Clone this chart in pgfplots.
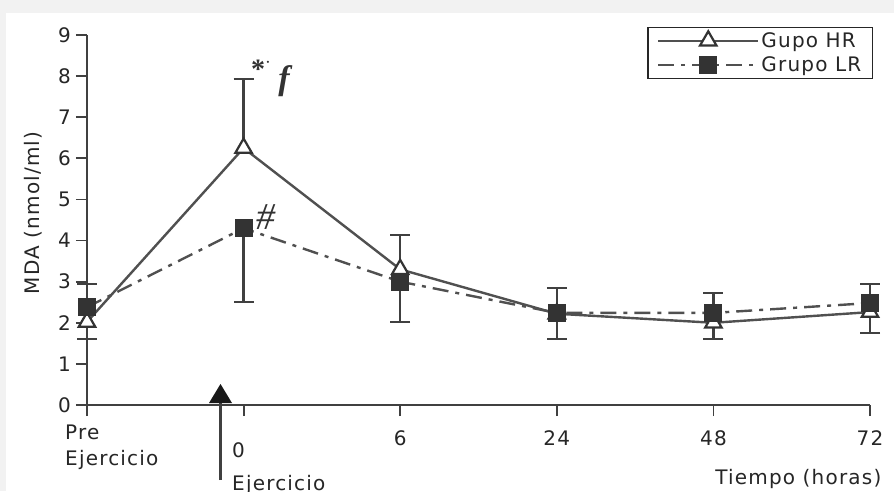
\documentclass[border=0pt]{standalone}
\usepackage{pgfplots}
\pgfplotsset{compat=1.18}
\usepackage{fontspec}
\setmainfont{DejaVu Sans}[LetterSpace=6]
\newfontfamily\seriff{Liberation Serif}
\definecolor{bg}{HTML}{F2F2F2}
\definecolor{ln}{HTML}{505050}
\definecolor{mk}{HTML}{333333}
\definecolor{ax}{HTML}{404040}
\begin{document}
\begin{tikzpicture}[x=1pt,y=1pt]
\fill[bg] (0,0) rectangle (894,491);
\fill[white] (6,0) rectangle (894,478);
\begin{axis}[
  at={(87pt,86pt)}, anchor=south west,
  scale only axis, width=783pt, height=370pt,
  xmin=0, xmax=5, ymin=0, ymax=9,
  clip=false,
  axis lines=left,
  axis line style={-, line width=1.8pt, color=ax},
  xtick={0,...,5}, xticklabels={,,6,24,48,72},
  ytick={0,...,9},
  tick align=outside, major tick length=11pt,
  tick style={line width=1.8pt, color=ax},
  tick label style={font=\fontsize{20}{24}\selectfont, text=black!85},
  /pgf/number format/assume math mode=true,
  yticklabel style={anchor=east, inner sep=0pt, xshift=-5pt},
  xticklabel style={anchor=north, inner sep=0pt, yshift=-14pt},
  ylabel={MDA (nmol/ml)},
  every axis y label/.style={at={(axis description cs:-0.069,0.519)}, rotate=90, anchor=center, font=\fontsize{20}{24}\selectfont, text=black!85},
  xlabel={Tiempo (horas)},
  every axis x label/.style={at={(axis description cs:1.019,-0.216)}, anchor=base east, font=\fontsize{20}{24}\selectfont, text=black!85},
  legend style={at={(axis description cs:1.0038,1.0216)}, anchor=north east,
    draw=black!85, line width=1.2pt, inner xsep=9pt, inner ysep=3pt,
    row sep=4pt, font=\fontsize{20}{24}\selectfont, text=black!85,
    nodes={inner sep=2pt}},
  legend cell align=left,
  legend image code/.code={
    \draw[mark repeat=2,mark phase=2,#1] plot coordinates {(0pt,0pt) (50pt,0pt) (100pt,0pt)};
  },
]
% error bars, plus direction
\addplot[forget plot, only marks, mark=none,
  error bars/.cd, y dir=plus, y explicit,
  error bar style={line width=2.3pt, color=ax, solid},
  error mark options={rotate=90, mark size=10pt, line width=2.3pt, color=ax, solid}]
  coordinates {(1,6.25) +- (0,1.68) (2,3.3) +- (0,0.83)
               (0,2.38) +- (0,0.56) (3,2.24) +- (0,0.61) (4,2.24) +- (0,0.48) (5,2.48) +- (0,0.46)};
% error bars, minus direction
\addplot[forget plot, only marks, mark=none,
  error bars/.cd, y dir=minus, y explicit,
  error bar style={line width=2.3pt, color=ax, solid},
  error mark options={rotate=90, mark size=10pt, line width=2.3pt, color=ax, solid}]
  coordinates {(0,2.02) +- (0,0.42) (3,2.22) +- (0,0.62) (4,2.0) +- (0,0.4) (5,2.26) +- (0,0.51)
               (1,4.3) +- (0,1.8) (2,3.0) +- (0,0.98)};
% Grupo HR
\addplot[color=ln, line width=2.4pt, mark=triangle*, mark size=9.5pt,
  mark options={solid, fill=white, draw=mk, line width=2.2pt}]
  coordinates {(0,2.02) (1,6.25) (2,3.3) (3,2.22) (4,2.0) (5,2.26)};
\addlegendentry{Gupo HR}
% Grupo LR
\addplot[color=ln, line width=2.4pt, dash pattern=on 16pt off 7pt on 4pt off 7pt,
  mark=square*, mark size=8.5pt,
  mark options={solid, fill=mk, draw=mk, line width=1pt}]
  coordinates {(0,2.38) (1,4.3) (2,3.0) (3,2.24) (4,2.24) (5,2.48)};
\addlegendentry{Grupo LR}
\end{axis}
% category labels
\node[anchor=base west, inner sep=0pt, font=\fontsize{20}{24}\selectfont, text=black!85] at (65,52) {Pre};
\node[anchor=base west, inner sep=0pt, font=\fontsize{20}{24}\selectfont, text=black!85] at (65,26) {Ejercicio};
\node[anchor=base west, inner sep=0pt, font=\fontsize{20}{24}\selectfont, text=black!85] at (232,34) {0};
\node[anchor=base west, inner sep=0pt, font=\fontsize{20}{24}\selectfont, text=black!85] at (232,1) {Ejercicio};
% exercise arrow
\draw[color=black!75, line width=2.5pt] (220.5,11) -- (220.5,92);
\fill[color=black!90] (209,88) -- (232,88) -- (220.5,107) -- cycle;
% significance marks
\node[inner sep=0pt, font=\seriff\bfseries\fontsize{28}{30}\selectfont, text=mk] at (258,422) {*};
\node[inner sep=0pt, font=\seriff\bfseries\fontsize{20}{22}\selectfont, text=mk] at (268,428) {$\cdot$};
\node[inner sep=0pt, font=\seriff\bfseries\itshape\fontsize{34}{36}\selectfont, text=mk] at (284,410) {f};
\node[inner sep=0pt, font=\seriff\itshape\fontsize{38}{40}\selectfont, text=mk] at (266,274) {\#};
\pgfresetboundingbox
\useasboundingbox (0,0) rectangle (894,491);
\end{tikzpicture}
\end{document}
